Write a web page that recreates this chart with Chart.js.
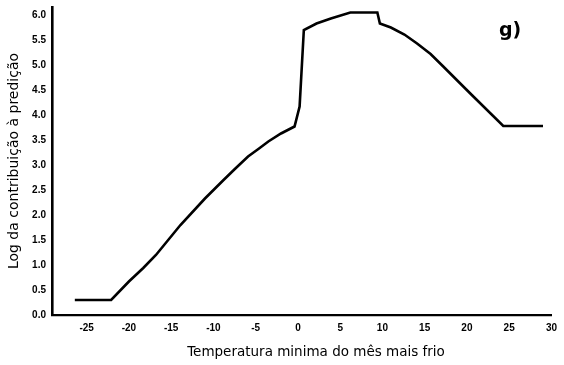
<!DOCTYPE html>
<html>
<head>
<meta charset="utf-8">
<script src="https://cdn.jsdelivr.net/npm/chart.js@4/dist/chart.umd.min.js"></script>
<style>
  html, body { margin: 0; padding: 0; background: #fff; }
  #wrap { width: 564px; height: 365px; }
</style>
</head>
<body>
<div id="wrap"><canvas id="c" width="564" height="365"></canvas></div>
<script>
// Minimum temperature of the coldest month (°C)
const tempMin = [-26.4, -22.1, -20.0, -18.3, -16.8, -13.9, -11.0, -8.8, -7.4, -5.9, -4.6, -3.5, -2.0, -0.4,
                 0.2, 0.7, 2.2, 3.9, 6.2, 9.4, 9.7, 11.0, 12.6, 14.1, 15.7, 17.2, 20.4, 24.3, 29.0];
// Log of the contribution to the prediction
const logContrib = [0.30, 0.30, 0.67, 0.94, 1.20, 1.80, 2.33, 2.70, 2.93, 3.17, 3.33, 3.47, 3.63, 3.77,
                    4.17, 5.70, 5.83, 5.93, 6.05, 6.05, 5.83, 5.75, 5.61, 5.43, 5.22, 4.97, 4.43, 3.78, 3.78];
const yTickValues = [0, 0.5, 1, 1.5, 2, 2.5, 3, 3.5, 4, 4.5, 5, 5.5, 6];
const xTickValues = [-25, -20, -15, -10, -5, 0, 5, 10, 15, 20, 25, 30];
const panelLabel = 'g)';
const xTitle = 'Temperatura minima do mês mais frio';
const yTitle = 'Log da contribuição à predição';

const points = tempMin.map((t, i) => ({ x: t, y: logContrib[i] }));

// Panel letter and the x-axis caption, which sits a little right of the plot centre
const textPlugin = {
  id: 'panelText',
  afterDraw(chart) {
    const ctx = chart.ctx;
    ctx.save();
    ctx.fillStyle = '#000';
    ctx.textBaseline = 'alphabetic';
    ctx.font = 'bold 19px "DejaVu Sans", sans-serif';
    ctx.textAlign = 'left';
    ctx.fillText(panelLabel, 499, 36);
    ctx.font = '13.5px "DejaVu Sans", sans-serif';
    ctx.textAlign = 'center';
    ctx.textBaseline = 'middle';
    ctx.fillText(xTitle, 316, 352);
    ctx.restore();
  }
};

new Chart(document.getElementById('c'), {
  type: 'scatter',
  data: {
    datasets: [{
      data: points,
      showLine: true,
      borderColor: '#000',
      borderWidth: 2.6,
      pointRadius: 0,
      tension: 0,
      fill: false
    }]
  },
  options: {
    responsive: false,
    animation: false,
    layout: { padding: { top: 7, right: 6, left: 0, bottom: 0 } },
    plugins: { legend: { display: false }, tooltip: { enabled: false } },
    scales: {
      x: {
        type: 'linear',
        min: -29.1,
        max: 30,
        afterBuildTicks(scale) { scale.ticks = xTickValues.map(v => ({ value: v })); },
        afterFit(scale) { scale.height = 50; },
        grid: { display: false, drawTicks: false },
        border: { display: true, color: '#000', width: 2.2 },
        ticks: {
          padding: 7,
          color: '#000',
          font: { family: '"Liberation Sans", sans-serif', size: 10, weight: 'bold' },
          maxRotation: 0,
          callback: v => String(v)
        },
        title: { display: false }
      },
      y: {
        type: 'linear',
        min: 0,
        max: 6.16,
        afterBuildTicks(scale) { scale.ticks = yTickValues.map(v => ({ value: v })); },
        afterFit(scale) { scale.width = 52; scale.paddingTop = 0; },
        grid: { display: false, drawTicks: false },
        border: { display: true, color: '#000', width: 2.6 },
        ticks: {
          padding: 6,
          color: '#000',
          font: { family: '"Liberation Sans", sans-serif', size: 10, weight: 'bold' },
          callback: v => Number(v).toFixed(1)
        },
        title: {
          display: true,
          text: yTitle,
          color: '#000',
          font: { family: '"DejaVu Sans", sans-serif', size: 14 },
          padding: { top: 6, bottom: 0 }
        }
      }
    }
  },
  plugins: [textPlugin]
});
</script>
</body>
</html>
